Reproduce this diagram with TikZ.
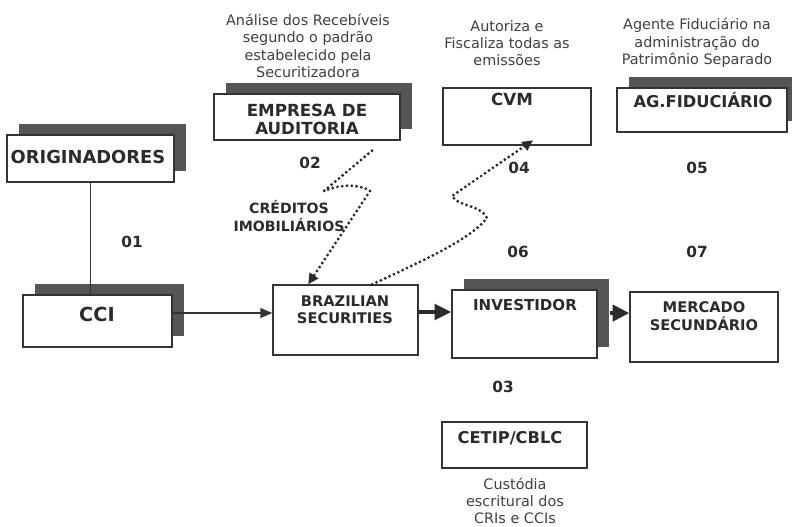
\documentclass[tikz,border=0pt]{standalone}
\usepackage{fontspec}
\setmainfont{DejaVu Sans}
\usetikzlibrary{arrows.meta,shadows}
\definecolor{ink}{HTML}{2B2B2B}
\definecolor{boxline}{HTML}{333333}
\definecolor{shadowgray}{HTML}{555555}

\begin{document}
\begin{tikzpicture}[x=0.75pt,y=-0.75pt]
\tikzstyle{box} = [rectangle,draw=boxline,line width=1pt,fill=white,inner sep=0pt]
\tikzstyle{shbox} = [box,drop shadow={shadow xshift=9pt,shadow yshift=8.5pt,fill=shadowgray,opacity=1}]
\tikzstyle{boxtxt} = [text=ink,align=center,inner sep=0pt,font=\bfseries\fontsize{11pt}{12.75pt}\selectfont]
\tikzstyle{note} = [text=ink!90,align=center,inner sep=0pt,font=\fontsize{10.8pt}{13pt}\selectfont]
\tikzstyle{num} = [text=ink,inner sep=0pt,font=\bfseries\fontsize{11.5pt}{13pt}\selectfont]
\tikzstyle{dotline} = [ink,line width=2.4pt,line cap=round,dash pattern=on 0pt off 3.6pt]
\useasboundingbox (0,0) rectangle (792,527);

% boxes
\node[shbox,minimum width=125.25pt,minimum height=35.25pt] (orig) at (90.5,158.5) {};
\node[shbox,minimum width=139.5pt,minimum height=34.5pt] (emp) at (307,117) {};
\node[box,minimum width=111pt,minimum height=42.75pt] (cvm) at (517,116.5) {};
\node[shbox,minimum width=127.5pt,minimum height=33pt] (agf) at (702,110) {};
\node[shbox,minimum width=111.75pt,minimum height=39pt] (cci) at (97.5,321) {};
\node[box,minimum width=108.75pt,minimum height=52.5pt] (braz) at (345.5,320) {};
\node[shbox,minimum width=108.75pt,minimum height=51pt] (inv) at (524.5,324) {};
\node[box,minimum width=111pt,minimum height=52.5pt] (merc) at (704,327) {};
\node[box,minimum width=108.75pt,minimum height=34.5pt] (cetip) at (514.5,445) {};

% box labels
\node[boxtxt,font=\bfseries\fontsize{13.4pt}{14pt}\selectfont] (origt) at (88,157) {ORIGINADORES};
\node[boxtxt,font=\bfseries\fontsize{12.5pt}{13.5pt}\selectfont] (empt) at (307,119) {EMPRESA DE\\AUDITORIA};
\node[boxtxt,font=\bfseries\fontsize{12.5pt}{14pt}\selectfont] (cvmt) at (512,99) {CVM};
\node[boxtxt,font=\bfseries\fontsize{12.2pt}{14pt}\selectfont] (agft) at (703,100) {AG.FIDUCIÁRIO};
\node[boxtxt,font=\bfseries\fontsize{14.5pt}{16pt}\selectfont] (ccit) at (97,314) {CCI};
\node[boxtxt] (brazt) at (345,309.5) {BRAZILIAN\\SECURITIES};
\node[boxtxt,font=\bfseries\fontsize{11.3pt}{13pt}\selectfont] (invt) at (525,305) {INVESTIDOR};
\node[boxtxt,font=\bfseries\fontsize{11pt}{13.5pt}\selectfont] (merct) at (704,316) {MERCADO\\SECUNDÁRIO};
\node[boxtxt,font=\bfseries\fontsize{12.2pt}{14pt}\selectfont] (cetipt) at (510,438) {CETIP/CBLC};
\node[boxtxt,font=\bfseries\fontsize{10.6pt}{13.5pt}\selectfont] (cred) at (289,216) {CRÉDITOS\\IMOBILIÁRIOS};

% notes
\node[note] (anal) at (308,46) {Análise dos Recebíveis\\segundo o padrão\\estabelecido pela\\Securitizadora};
\node[note] (autz) at (507,43) {Autoriza e\\Fiscaliza todas as\\emissões};
\node[note] (agnt) at (697,43) {Agente Fiduciário na\\administração do\\Patrimônio Separado};
\node[note] (cust) at (515,501) {Custódia\\escritural dos\\CRIs e CCIs};

% step numbers
\node[num] (n01) at (132,242) {01};
\node[num] (n02) at (310,163) {02};
\node[num] (n03) at (503,387) {03};
\node[num] (n04) at (519,168) {04};
\node[num] (n05) at (697,168) {05};
\node[num] (n06) at (518,252) {06};
\node[num] (n07) at (697,252) {07};

% links
\draw[boxline,line width=1pt] (orig.south) -- (orig.south |- cci.north);
\draw[arrows=-{Triangle[length=9pt,width=7.5pt]},boxline,line width=1pt]
  ([yshift=6pt]cci.east) -- ([yshift=6pt]cci.east -| braz.west);
\draw[arrows=-{Triangle[length=12.5pt,width=11.5pt]},ink,line width=3pt]
  ([yshift=6pt]braz.east) -- ([yshift=6pt]braz.east -| inv.west);
\draw[arrows=-{Triangle[length=12.5pt,width=12pt]},ink,line width=3pt]
  ([xshift=9.5pt,yshift=8.2pt]inv.east) -- ([yshift=8.2pt]inv.east -| merc.west);
\draw[dotline,arrows=-{Triangle[length=8pt,width=7.5pt]}]
  ([xshift=48.75pt,yshift=-7.5pt]emp.south) -- (324,191)
  .. controls (340,184) and (360,184) .. (370,191) -- ([xshift=-28pt]braz.north);
\draw[dotline,arrows=-{Triangle[length=8pt,width=7.5pt]}]
  ([xshift=20pt]braz.north) .. controls (420,262) and (470,240) .. (487,218)
  .. controls (480,204) and (458,207) .. (452,196) -- ([xshift=12pt,yshift=4pt]cvm.south);
\end{tikzpicture}
\end{document}
